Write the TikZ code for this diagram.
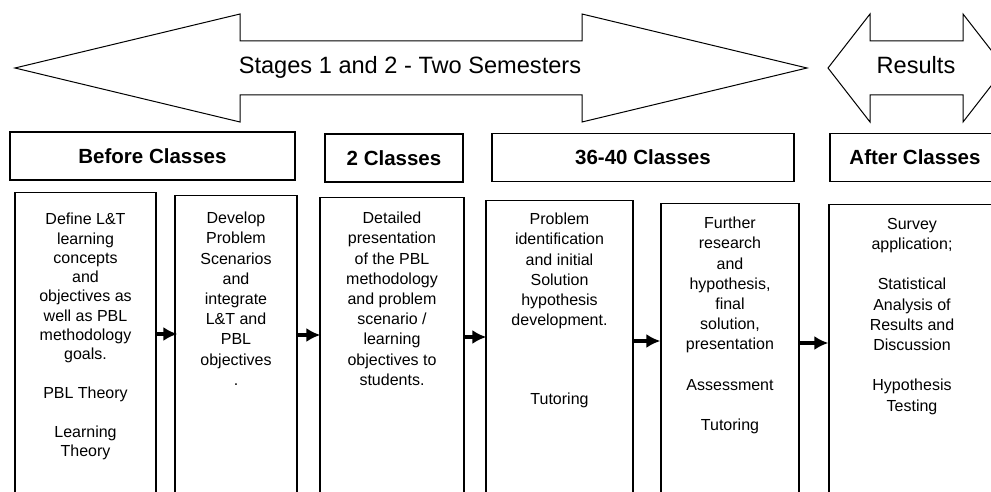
\documentclass[tikz,border=0pt]{standalone}
\usepackage{fontspec}
\setmainfont{Liberation Sans}
\usepackage{tikz}
\usetikzlibrary{arrows.meta,positioning}
\newcommand{\bodyfont}{\fontsize{16}{20.2}\selectfont}
\newcommand{\tightfont}{\fontsize{16}{19.3}\selectfont}
\newcommand{\headfont}{\fontsize{20.5}{24}\selectfont\bfseries}
\newcommand{\bigfont}{\fontsize{23.6}{27}\selectfont}
\newcommand{\colheight}{340pt}
\tikzstyle{blockarrow}=[draw, line width=1pt, line join=miter]
\tikzstyle{stagebox}=[draw, rectangle, line width=1.2pt, minimum height=48pt, inner sep=0, font=\headfont]
\tikzstyle{colbox}=[draw, rectangle, line width=1.2pt, anchor=north, minimum height=\colheight, inner sep=0]
\tikzstyle{coltext}=[anchor=north, align=center, inner sep=0, font=\bodyfont]
\tikzstyle{flowarrow}=[-{Latex[length=14pt,width=14pt]}, line width=3.8pt]

\begin{document}
\begin{tikzpicture}[x=1pt, y=-1pt]
  \useasboundingbox (0,0) rectangle (991,492);
  \clip (0,0) rectangle (991,492);

  % block arrows on top
  \draw[blockarrow] (15,68) -- (240,14) -- (240,41) -- (582,41) -- (582,14) -- (807,68)
    -- (582,122) -- (582,95) -- (240,95) -- (240,122) -- cycle;
  \node[font=\bigfont, anchor=base] (stages) at (410,74) {Stages 1 and 2 - Two Semesters};

  \draw[blockarrow] (828,68) -- (870,14) -- (870,41) -- (963,41) -- (963,14) -- (1005,68)
    -- (963,122) -- (963,95) -- (870,95) -- (870,122) -- cycle;
  \node[font=\bigfont, anchor=base] (results) at (916,74) {Results};

  % stage headers
  \node[stagebox, minimum width=285pt] (hbefore) at (152.5,156) {Before Classes};
  \node[stagebox, minimum width=138pt] (htwo) at (394,158) {2 Classes};
  \node[stagebox, minimum width=302pt] (hduring) at (643,157.5) {36-40 Classes};
  \node[stagebox, minimum width=170pt] (hafter) at (915,157.5) {After Classes};

  % columns
  \node[colbox, minimum width=141pt] (c1) at (85.5,192) {};
  \node[colbox, minimum width=122pt] (c2) at (236,195) {};
  \node[colbox, minimum width=144pt] (c3) at (392,197) {};
  \node[colbox, minimum width=147pt] (c4) at (559.5,200) {};
  \node[colbox, minimum width=138pt] (c5) at (730,203) {};
  \node[colbox, minimum width=166pt] (c6) at (912,204) {};

  \node[coltext, font=\tightfont] (t1) at (c1.north |- 0,213) {Define L\&T\\learning\\concepts\\and\\objectives as\\well as PBL\\methodology\\goals.\\[19.3pt]PBL Theory\\[19.3pt]Learning\\Theory};
  \node[coltext] (t2) at (c2.north |- 0,212) {Develop\\Problem\\Scenarios\\and\\integrate\\L\&T and\\PBL\\objectives\\.};
  \node[coltext] (t3) at (c3.north |- 0,212) {Detailed\\presentation\\of the PBL\\methodology\\and problem\\scenario /\\learning\\objectives to\\students.};
  \node[coltext] (t4) at (c4.north |- 0,213) {Problem\\identification\\and initial\\Solution\\hypothesis\\development.\\[59pt]Tutoring};
  \node[coltext] (t5) at (c5.north |- 0,217) {Further\\research\\and\\hypothesis,\\final\\solution,\\presentation\\[20.2pt]Assessment\\[20.2pt]Tutoring};
  \node[coltext] (t6) at (c6.north |- 0,218) {Survey\\application;\\[20.2pt]Statistical\\Analysis of\\Results and\\Discussion\\[20.2pt]Hypothesis\\Testing};

  \draw[flowarrow] (c1.east |- 0,334) -- ([xshift=3pt]c2.west |- 0,334);
  \draw[flowarrow] (c2.east |- 0,335) -- ([xshift=1pt]c3.west |- 0,335);
  \draw[flowarrow] (c3.east |- 0,337) -- ([xshift=1pt]c4.west |- 0,337);
  \draw[flowarrow] (c4.east |- 0,341) -- (c5.west |- 0,341);
  \draw[flowarrow] (c5.east |- 0,343) -- (c6.west |- 0,343);

\end{tikzpicture}
\end{document}
